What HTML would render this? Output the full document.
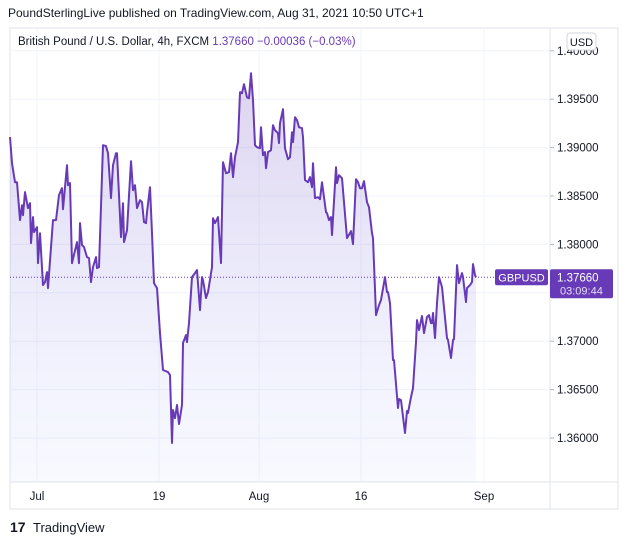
<!DOCTYPE html>
<html><head><meta charset="utf-8"><style>
body{margin:0;background:#fff;width:627px;height:545px;overflow:hidden;font-family:"Liberation Sans",sans-serif}
</style></head><body>
<svg width="627" height="545" viewBox="0 0 627 545" xmlns="http://www.w3.org/2000/svg" font-family="Liberation Sans, sans-serif">
<defs>
<linearGradient id="fillg" x1="0" y1="0" x2="0" y2="1">
<stop offset="0" stop-color="rgb(103,58,183)" stop-opacity="0.22"/>
<stop offset="1" stop-color="rgb(120,150,255)" stop-opacity="0.05"/>
</linearGradient>
</defs>
<text x="8" y="17" font-size="12" fill="#131722">PoundSterlingLive published on TradingView.com, Aug 31, 2021 10:50 UTC+1</text>
<rect x="10" y="28" width="608" height="481" fill="none" stroke="#e0e3eb"/>
<line x1="550" y1="28" x2="550" y2="509" stroke="#e0e3eb"/>
<line x1="10" y1="482" x2="618" y2="482" stroke="#e0e3eb"/>
<g id="grid"></g>
<path id="area" fill="url(#fillg)"/>
<line id="lastline" stroke="#673ab7" stroke-dasharray="1,2"/>
<path id="line" fill="none" stroke="#673ab7" stroke-width="2" stroke-linejoin="round"/>
<g id="yaxis"></g>
<g id="xaxis"></g>
<text x="18" y="45" font-size="11.5" fill="#131722">British Pound / U.S. Dollar, 4h, FXCM <tspan fill="#673ab7">1.37660  −0.00036 (−0.03%)</tspan></text>
<rect x="567" y="33" width="29" height="17" rx="3" fill="#fff" stroke="#d1d4dc"/>
<text x="581.5" y="46" font-size="11" text-anchor="middle" fill="#131722">USD</text>
<g id="labels"></g>
<g>
<text x="10" y="532" font-size="14" font-weight="bold" fill="#131722">17</text>
<text x="33" y="532" font-size="13" fill="#131722">TradingView</text>
</g>
</svg>
<script>
const priceTicks=[1.40,1.395,1.39,1.385,1.38,1.375,1.37,1.365,1.36];
const priceTickLabels=["1.40000","1.39500","1.39000","1.38500","1.38000","","1.37000","1.36500","1.36000"];
const timeTickBars=[27,149,249,351,474];
const timeTickLabels=["Jul","19","Aug","16","Sep"];
const lastPrice=1.37660;
const closes=[[0,1.39108],[2,1.38839],[5,1.38643],[7,1.38643],[10,1.38251],[12,1.38405],[13,1.38302],[15,1.38540],[18,1.38375],[20,1.38426],[21,1.38013],[23,1.38282],[24,1.38127],[27,1.38178],[28,1.37807],[30,1.38116],[33,1.37580],[35,1.37611],[37,1.37714],[38,1.37549],[43,1.38251],[46,1.38251],[49,1.38509],[52,1.38581],[53,1.38364],[57,1.38818],[58,1.38612],[60,1.38633],[62,1.37807],[67,1.38024],[69,1.37807],[70,1.38220],[72,1.37993],[74,1.37972],[77,1.37869],[79,1.37858],[81,1.37611],[83,1.37765],[86,1.37869],[87,1.37755],[89,1.37765],[93,1.39025],[96,1.39015],[98,1.38942],[101,1.38478],[103,1.38818],[106,1.38942],[107,1.38942],[111,1.38075],[113,1.38426],[114,1.38024],[117,1.38147],[121,1.38860],[123,1.38560],[125,1.38612],[127,1.38375],[130,1.38457],[132,1.38436],[134,1.38230],[136,1.38220],[137,1.38333],[140,1.38591],[142,1.38116],[144,1.37600],[147,1.37549],[150,1.37084],[153,1.36702],[158,1.36681],[160,1.36650],[162,1.35948],[163,1.36289],[165,1.36206],[167,1.36341],[169,1.36145],[172,1.36341],[173,1.36981],[176,1.37063],[177,1.36991],[179,1.37187],[182,1.37662],[185,1.37703],[187,1.37734],[190,1.37321],[192,1.37662],[193,1.37631],[196,1.37445],[198,1.37507],[202,1.37765],[203,1.38271],[205,1.38220],[208,1.38282],[211,1.37807],[213,1.38849],[216,1.38736],[219,1.38746],[221,1.38942],[223,1.38695],[225,1.38901],[228,1.39056],[230,1.39572],[232,1.39562],[234,1.39655],[237,1.39520],[239,1.39510],[241,1.39768],[243,1.39490],[245,1.39025],[247,1.39004],[250,1.38994],[251,1.39211],[253,1.38922],[255,1.38953],[256,1.38787],[258,1.38953],[261,1.38973],[263,1.39231],[265,1.39180],[268,1.39149],[269,1.39046],[270,1.39252],[273,1.39397],[275,1.38994],[278,1.38880],[280,1.38901],[282,1.39159],[283,1.39056],[285,1.39314],[287,1.39283],[289,1.39211],[292,1.39200],[293,1.39108],[295,1.38664],[298,1.38643],[300,1.38695],[302,1.38591],[303,1.38839],[305,1.38478],[308,1.38488],[310,1.38467],[312,1.38643],[316,1.38333],[317,1.38323],[319,1.38251],[321,1.38282],[322,1.38096],[326,1.38798],[327,1.38633],[329,1.38715],[332,1.38684],[337,1.38065],[341,1.38137],[343,1.38003],[346,1.38674],[348,1.38643],[350,1.38581],[352,1.38581],[354,1.38653],[357,1.38436],[359,1.38385],[362,1.38116],[363,1.38065],[366,1.37270],[369,1.37373],[371,1.37425],[375,1.37662],[377,1.37507],[378,1.37507],[380,1.37394],[383,1.36805],[384,1.36805],[388,1.36310],[389,1.36403],[391,1.36392],[395,1.36052],[397,1.36279],[398,1.36258],[401,1.36423],[403,1.36516],[406,1.36991],[407,1.37218],[409,1.37115],[412,1.37260],[414,1.37084],[417,1.37249],[419,1.37270],[421,1.37187],[422,1.37187],[423,1.37291],[425,1.37032],[427,1.37394],[429,1.37662],[432,1.37559],[437,1.37032],[438,1.37012],[441,1.36826],[443,1.37012],[444,1.37022],[447,1.37786],[449,1.37600],[452,1.37703],[453,1.37662],[456,1.37404],[457,1.37549],[460,1.37580],[462,1.37611],[463,1.37796],[465,1.37683],[466,1.37660]];

const NS="http://www.w3.org/2000/svg";
function yScale(p){return 438-(p-1.36)/0.005*48.4;}
function xScale(b){return 10+b;}
function mk(tag,attrs,parent){const e=document.createElementNS(NS,tag);for(const k in attrs)e.setAttribute(k,attrs[k]);parent.appendChild(e);return e;}
const grid=document.getElementById('grid'),yaxis=document.getElementById('yaxis'),xaxis=document.getElementById('xaxis');
priceTicks.forEach((p,i)=>{
  const y=yScale(p);
  const g=mk('line',{x1:10,x2:550,y1:y,y2:y,stroke:'#f0f3fa'},grid);
  
  
  const tk=mk('line',{x1:550,x2:554,y1:y,y2:y,stroke:'#b2b5be'},yaxis);
  
  
  if(priceTickLabels[i]){
    const t=mk('text',{x:557,y:y+4,'font-size':11.5,fill:'#131722'},yaxis);
    t.textContent=priceTickLabels[i];
    
    
  }
});
timeTickBars.forEach((b,i)=>{
  const x=xScale(b);
  const g=mk('line',{x1:x,x2:x,y1:28,y2:482,stroke:'#f0f3fa'},grid);
  
  
  const t=mk('text',{x:x,y:500,'font-size':11.5,fill:'#131722','text-anchor':'middle'},xaxis);
  t.textContent=timeTickLabels[i];
  
  
});
let d='';
closes.forEach((c,i)=>{d+=(i?'L':'M')+xScale(c[0]).toFixed(1)+','+yScale(c[1]).toFixed(1);});
document.getElementById('line').setAttribute('d',d);
const lastX=xScale(closes[closes.length-1][0]),firstX=xScale(closes[0][0]);
document.getElementById('area').setAttribute('d',d+'L'+lastX+',482L'+firstX+',482Z');
const ly=yScale(lastPrice);
const ll=document.getElementById('lastline');
ll.setAttribute('x1',10);ll.setAttribute('x2',497);ll.setAttribute('y1',ly);ll.setAttribute('y2',ly);
const lab=document.getElementById('labels');
const r1=mk('rect',{x:495,y:ly-8,width:53,height:16,rx:2,fill:'#673ab7'},lab);


const t1=mk('text',{x:521.5,y:ly+4,'font-size':11,fill:'#fff','text-anchor':'middle'},lab);
t1.textContent='GBPUSD';


const r2=mk('rect',{x:550,y:ly-8,width:63,height:29,rx:2,fill:'#673ab7'},lab);


const t2=mk('text',{x:557,y:ly+4,'font-size':11.5,fill:'#fff'},lab);
t2.textContent=lastPrice.toFixed(5);


const t3=mk('text',{x:560,y:ly+17,'font-size':11,fill:'#e6dcf5'},lab);
t3.textContent='03:09:44';


</script>
</body></html>
